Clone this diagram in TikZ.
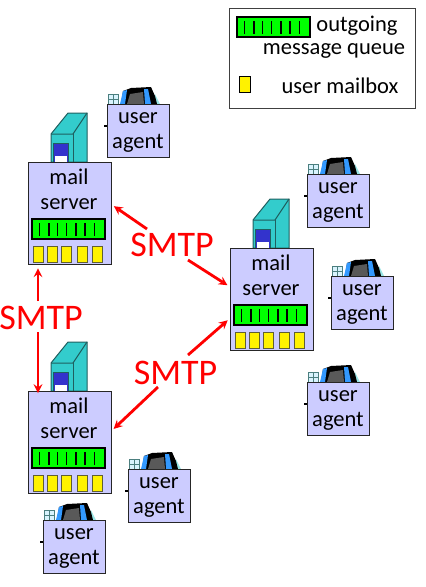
\documentclass[tikz,border=0pt]{standalone}
\usepackage{fontspec}
\setmainfont{Carlito}
\usetikzlibrary{calc}
\definecolor{boxblue}{HTML}{CCCCFF}
\definecolor{towercyan}{HTML}{33CCCC}
\definecolor{towerdark}{HTML}{1F5F5F}
\definecolor{drivblue}{HTML}{3333CC}
\definecolor{stripeblue}{HTML}{3399FF}
\definecolor{mboxedge}{HTML}{5F5F33}
\tikzset{
  hostbox/.style={draw=black!85,line width=1.3pt,fill=boxblue,inner sep=0pt,anchor=north west},
  boxtext/.style={font=\fontsize{22.5}{25}\selectfont,align=center,inner sep=0pt},
  smtptext/.style={font=\fontsize{36}{40}\selectfont,text=red,inner sep=0pt},
  smtpline/.style={->,red,line width=2.8pt},
  mboxcell/.style={draw=mboxedge,line width=1pt,fill=yellow}
}

\begin{document}
\begin{tikzpicture}[x=1pt,y=-1pt,>=stealth]
\useasboundingbox (0,0) rectangle (426,587);
% legend
\node[draw=black!75,line width=1pt,inner sep=0pt,minimum width=186pt,minimum height=100pt,anchor=north west] (legend) at (229,8) {};
\node[boxtext] (legendout) at (357,26) {outgoing};
\node[boxtext] (legendmsg) at (334,51) {message queue};
\node[boxtext] (legendusr) at (340,86) {user mailbox};
\draw[draw=black,line width=1pt,fill=yellow] (239,76) rectangle (250,92);
% mail servers, tower first so the box sits on it
\foreach \n/\x/\y in {srvA/28/162,srvB/230/248,srvC/28/391} {
\begin{scope}[shift={(\x,\y)}]
\draw[draw=towerdark,line width=1pt,fill=towercyan] (23,0) -- (23,-28) -- (40,-49) -- (59,-49) -- (59,0) -- cycle;
\draw[draw=towerdark,line width=1pt] (23,-28) -- (45,-28) -- (59,-49);
\draw[draw=towerdark,line width=1pt] (45,-28) -- (45,0);
\fill[drivblue] (25,-19) rectangle (40,0);
\fill[white] (27,-6) rectangle (39,0);
\draw[draw=towerdark,line width=1pt] (25,0) -- (25,-19) -- (40,-19) -- (40,0);
\node[hostbox,minimum width=82.5pt,minimum height=102pt] (\n) at (0,0) {};
\node[boxtext] (\n text) at (41,27) {mail\\server};
\foreach \m in {5,19,33,49,64} \draw[mboxcell] (\m,84) rectangle ++(10,16);
\end{scope}
}
% outgoing queues (legend one too)
\foreach \qx/\qy in {237/17,32/219,234/305,32/448} {
\begin{scope}[shift={(\qx,\qy)}]
\draw[draw=black,line width=1.3pt,fill=green] (0,0) rectangle (73,20);
\foreach \t in {7.7,17,25.7,34.3,44,53,62.3} \draw[line width=1.2pt] (\t,4) -- (\t,17);
\end{scope}
}
% user agents, monitor behind the box
\foreach \n/\x/\y in {uaA/107/104,uaB/307/174,uaC/331/276,uaD/307/382,uaE/128/469,uaF/43/520} {
\begin{scope}[shift={(\x,\y)}]
\draw[draw=towerdark!80,line width=.6pt,fill=cyan!15] (1,-10) rectangle (11,0);
\draw[draw=towerdark!80,line width=.5pt] (1,-5) -- (11,-5) (6,-10) -- (6,0);
\fill[towercyan!50] (46,0) -- (48,-10) -- (53,0) -- cycle;
\fill[black] (14,0) -- (16,-13) -- (24,-16) -- (44,-17) -- (48,-8) -- (50,0) -- cycle;
\fill[black!65] (20,0) -- (23,-10) -- (36,-12) -- (37,0) -- cycle;
\fill[stripeblue] (13,0) -- (16,-13) -- (20,-14) -- (18,0) -- cycle;
\fill[stripeblue] (38,0) -- (37,-15) -- (41,-15) -- (44,0) -- cycle;
\draw[line width=1.2pt] (-3,22) -- (0,22);
\node[hostbox,minimum width=61.5pt,minimum height=53pt] (\n) at (0,0) {};
\node[boxtext] (\n text) at (31,28.5) {user\\agent};
\end{scope}
}
% SMTP labels and arrows
\node[smtptext] (smtpA) at (172,245) {SMTP};
\node[smtptext] (smtpB) at (41,318) {SMTP};
\node[smtptext] (smtpC) at (175.5,373) {SMTP};
\coordinate (tailAl) at (147,229);
\coordinate (tailAr) at (188,260);
\coordinate (tailBu) at (38,301);
\coordinate (tailBd) at (38,332);
\coordinate (tailCr) at (188,355);
\coordinate (tailCl) at (158,387);
\draw[smtpline,shorten >=2.5pt] (tailAl) -- (srvA.12);
\draw[smtpline,shorten >=3pt] (tailAr) -- (srvB.163);
\draw[smtpline,shorten >=3pt] (tailBu) -- (tailBu |- srvA.south);
\draw[smtpline,shorten >=-2pt] (tailBd) -- (tailBd |- srvC.north);
\draw[smtpline,shorten >=3pt] (tailCr) -- (srvB.204);
\draw[smtpline,shorten >=2.5pt] (tailCl) -- (srvC.16);
\end{tikzpicture}
\end{document}
